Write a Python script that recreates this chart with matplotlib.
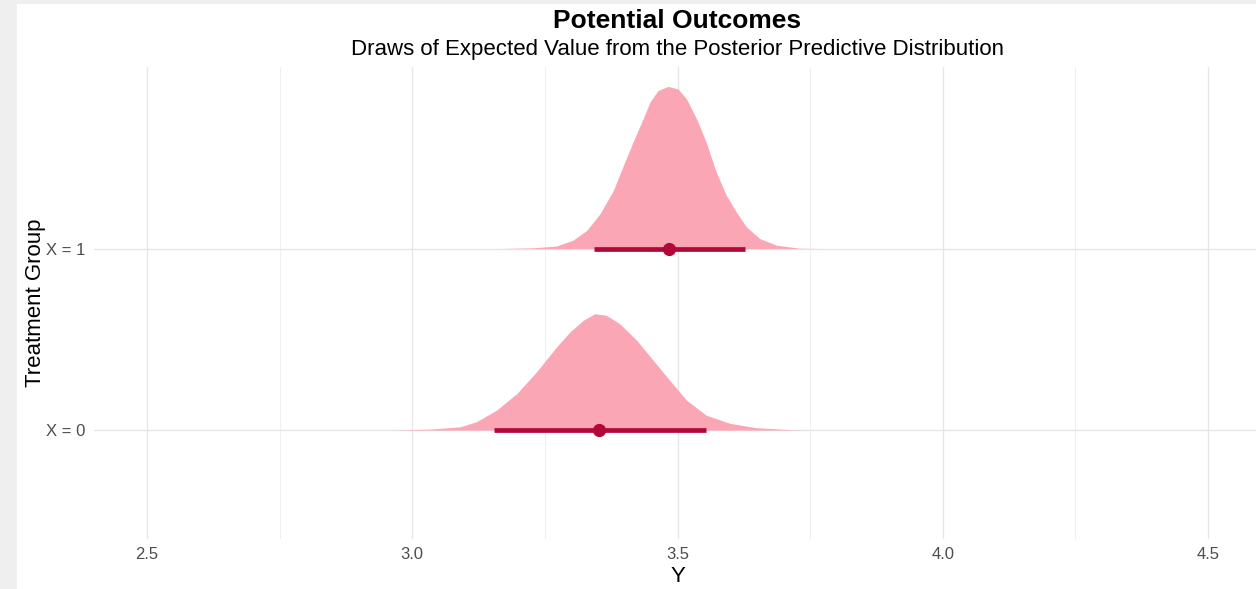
import matplotlib
matplotlib.use("Agg")
import matplotlib.pyplot as plt
from matplotlib.patches import Rectangle
from matplotlib.ticker import MultipleLocator

plt.rcParams['font.family'] = ['Liberation Sans', 'DejaVu Sans']

groups = ["X = 0", "X = 1"]

# density outline of draws, X = 0 (value, relative height)
x0_vals = [2.958, 3.033, 3.090, 3.121, 3.159, 3.197, 3.234, 3.272, 3.297, 3.322,
           3.344, 3.366, 3.391, 3.423, 3.454, 3.485, 3.517, 3.554, 3.599, 3.649,
           3.712, 3.749]
x0_dens = [0.0, 0.005, 0.018, 0.046, 0.11, 0.201, 0.32, 0.458, 0.540, 0.604,
           0.641, 0.632, 0.586, 0.495, 0.385, 0.275, 0.165, 0.082, 0.037, 0.013,
           0.002, 0.0]

# density outline of draws, X = 1
x1_vals = [3.165, 3.228, 3.272, 3.303, 3.329, 3.354, 3.379, 3.398, 3.416, 3.435,
           3.448, 3.463, 3.482, 3.501, 3.517, 3.536, 3.554, 3.573, 3.592, 3.611,
           3.630, 3.655, 3.687, 3.730, 3.768]
x1_dens = [0.0, 0.004, 0.014, 0.046, 0.10, 0.192, 0.32, 0.458, 0.586, 0.714,
           0.806, 0.870, 0.893, 0.879, 0.824, 0.714, 0.586, 0.421, 0.293, 0.201,
           0.119, 0.055, 0.018, 0.002, 0.0]

# point estimates and intervals
point_est = [3.352, 3.484]
int_low = [3.154, 3.342]
int_high = [3.554, 3.627]

fill_col = '#FBA6B5'
dark_col = '#B10839'

fig = plt.figure(figsize=(12.56, 5.89), dpi=100)
fig.patch.set_facecolor('#EFEFEF')
fig.patches.append(Rectangle((17 / 1256, 0), 1.0, (589 - 4) / 589,
                             transform=fig.transFigure, facecolor='white',
                             edgecolor='none', zorder=-5))

ax = fig.add_axes([94 / 1256, 50 / 589, (1261 - 94) / 1256, (539 - 67) / 589])
ax.set_facecolor('none')
ax.set_zorder(1)

dens = [(x0_vals, x0_dens), (x1_vals, x1_dens)]
for i, (xv, dv) in enumerate(dens):
    base = [i] * len(xv)
    top = [i + d for d in dv]
    ax.fill_between(xv, base, top, color=fill_col, lw=0, zorder=2)
    ax.plot([int_low[i], int_high[i]], [i, i], color=dark_col, lw=3.4,
            solid_capstyle='butt', zorder=3)
    ax.plot([point_est[i]], [i], 'o', color=dark_col, ms=8.5, zorder=4)

ax.set_xlim(2.4, 4.6)
ax.set_ylim(-0.6, 2.0)
ax.xaxis.set_major_locator(MultipleLocator(0.5))
ax.xaxis.set_minor_locator(MultipleLocator(0.25))
ax.set_yticks([0, 1])
ax.set_yticklabels(groups)
ax.grid(True, which='major', color='#E6E6E6', lw=1.0, zorder=0)
ax.grid(True, which='minor', axis='x', color='#EFEFEF', lw=0.8, zorder=0)
ax.set_axisbelow(True)
for s in ax.spines.values():
    s.set_visible(False)
ax.tick_params(which='both', length=0, labelsize=12, labelcolor='#4D4D4D')
ax.tick_params(axis='x', pad=6)
ax.tick_params(axis='y', pad=6)

ax.set_xlabel('Y', fontsize=16, labelpad=3)
ax.set_ylabel('Treatment Group', fontsize=16, labelpad=0)

cx = (94 + 1261) / 2 / 1256
fig.text(cx, 1 - 21 / 589, 'Potential Outcomes', ha='center', va='center',
         fontsize=19, fontweight='bold')
fig.text(cx, 1 - 50 / 589, 'Draws of Expected Value from the Posterior Predictive Distribution',
         ha='center', va='center', fontsize=16)

fig.savefig('out.png', dpi=100, facecolor=fig.get_facecolor())
